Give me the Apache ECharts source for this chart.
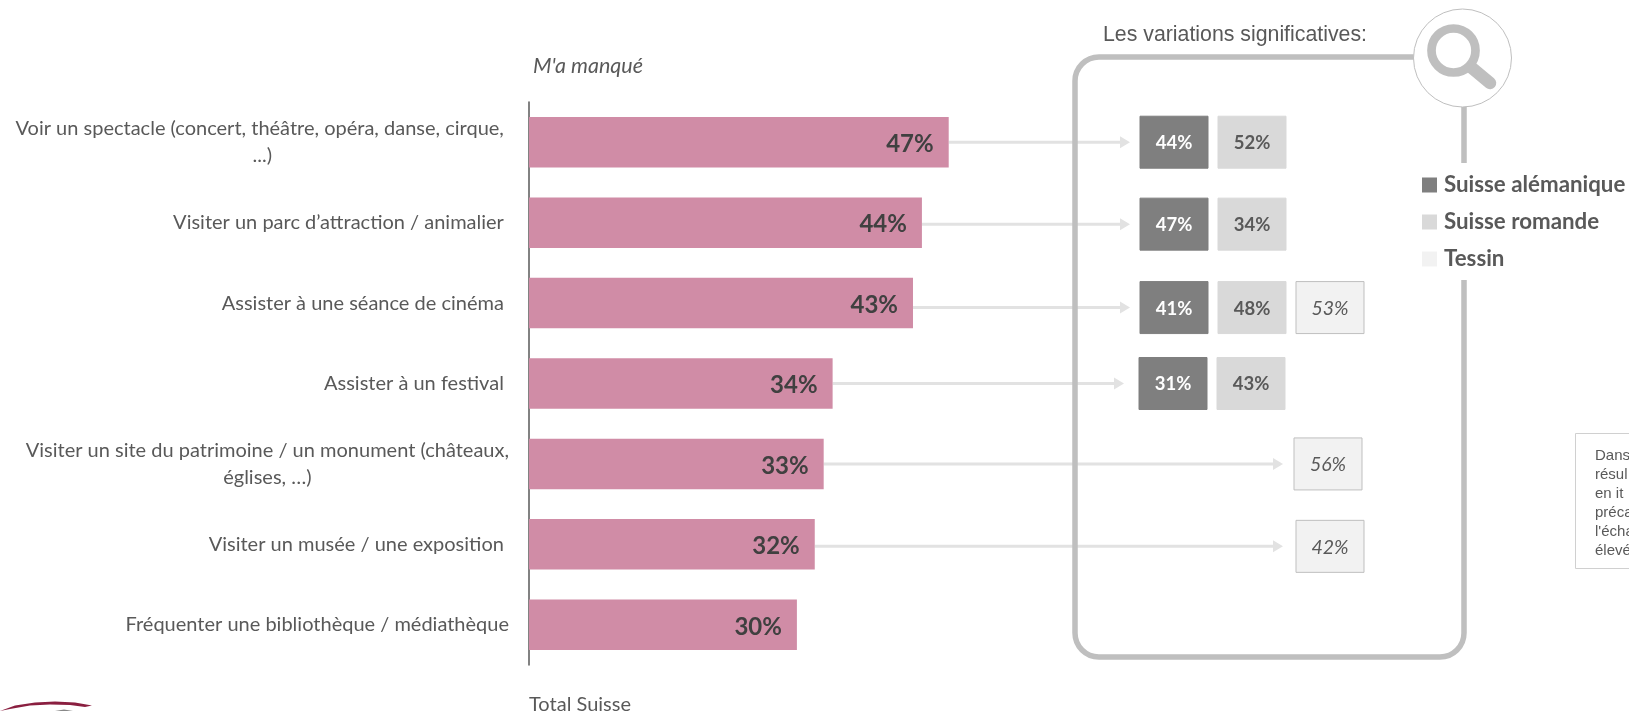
<!DOCTYPE html>
<html>
<head>
<meta charset="utf-8">
<script src="https://cdn.jsdelivr.net/npm/echarts@6/dist/echarts.min.js"></script>
<style>
html, body { margin: 0; padding: 0; background: #fff; }
#chart { width: 1629px; height: 711px; }
</style>
</head>
<body>
<div id="chart"></div>
<script>
// trailing spaces are in the source labels, they push some rows a little to the left
var categories = [
  'Voir un spectacle (concert, théâtre, opéra, danse, cirque, \n...)',
  'Visiter un parc d’attraction / animalier ',
  'Assister à une séance de cinéma ',
  'Assister à un festival ',
  'Visiter un site du patrimoine / un monument (châteaux,\néglises, …)',
  'Visiter un musée / une exposition ',
  'Fréquenter une bibliothèque / médiathèque'
];
var totalSuisse = [47, 44, 43, 34, 33, 32, 30];
var regions = ['Suisse alémanique', 'Suisse romande', 'Tessin'];
var alemanique = [44, 47, 41, 31, null, null, null];
var romande = [52, 34, 48, 43, null, null, null];
var tessin = [null, null, 53, null, 56, 42, null];

// layout only, no data in here
var rowNudge = [0, 1.5, 4.5, 0, 0, 2, 0];
var arrowEnd = [1130, 1130, 1130, 1124, 1283, 1283, null];
var tessinNudge = { 4: -2 };
var sansFont = 'Lato';

var chart = echarts.init(document.getElementById('chart'));

function regionSeries(col, values, fill, stroke, textColor, bold, italic) {
  var data = [];
  values.forEach(function (v, i) {
    if (v !== null) data.push([col, i, v]);
  });
  return {
    name: regions[col],
    type: 'custom',
    xAxisIndex: 1,
    yAxisIndex: 1,
    itemStyle: { color: fill },
    data: data,
    encode: { x: 0, y: 1 },
    renderItem: function (params, api) {
      var row = api.value(1);
      var p = api.coord([api.value(0), row]);
      var dx = (col === 2 && tessinNudge[row]) || (row === 3 ? -1 : 0);
      var cx = p[0] + dx, cy = p[1] + rowNudge[row];
      return {
        type: 'group',
        children: [{
          type: 'rect',
          shape: { x: cx - 34, y: cy - 26, width: 68, height: 52 },
          style: { fill: fill, stroke: stroke, lineWidth: 1 }
        }, {
          type: 'text',
          style: {
            x: cx, y: cy + 1, text: api.value(2) + '%',
            align: 'center', verticalAlign: 'middle',
            fill: textColor,
            font: (italic ? 'italic 19.5px ' : 'bold 18.5px ') + sansFont
          }
        }]
      };
    }
  };
}

var option = {
  backgroundColor: '#fff',
  animation: false,
  textStyle: { fontFamily: sansFont },
  grid: [
    { left: 529, top: 102, width: 893, height: 563 },
    { left: 1135, top: 102, width: 234, height: 563 }
  ],
  xAxis: [
    { type: 'value', gridIndex: 0, min: 0, max: 100, show: false },
    { type: 'category', gridIndex: 1, data: regions, show: false }
  ],
  yAxis: [
    {
      type: 'category',
      gridIndex: 0,
      inverse: true,
      data: categories,
      axisLine: { show: true, lineStyle: { color: '#595959', width: 1.5 } },
      axisTick: { show: false },
      axisLabel: {
        margin: 20,
        align: 'right',
        color: '#595959',
        fontSize: 20,
        formatter: function (v) {
          return v.split('\n').map(function (s) { return '{c|' + s + '}'; }).join('\n');
        },
        rich: { c: { align: 'center', color: '#595959', fontSize: 20, lineHeight: 27, fontFamily: sansFont } }
      }
    },
    { type: 'category', gridIndex: 1, inverse: true, data: categories, show: false }
  ],
  legend: {
    data: regions.map(function (r) { return { name: r, icon: 'rect' }; }),
    orient: 'vertical',
    left: 1422,
    top: 174,
    z: 20,
    selectedMode: false,
    itemWidth: 15,
    itemHeight: 15,
    itemGap: 15,
    padding: 0,
    textStyle: { color: '#595959', fontWeight: 'bold', fontSize: 22.3, fontFamily: sansFont, padding: [0, 0, 0, 2] }
  },
  series: [
    {
      name: 'Total Suisse',
      type: 'bar',
      data: totalSuisse,
      barWidth: 50.5,
      itemStyle: { color: '#d08ca6' },
      label: {
        show: true,
        position: 'insideRight',
        distance: 15,
        offset: [0, 2],
        color: '#404040',
        fontWeight: 'bold',
        fontSize: 24,
        formatter: '{c}%'
      }
    },
    {
      // grey arrows from the end of each bar to its boxes
      type: 'custom',
      data: totalSuisse.map(function (v, i) { return [v, i]; }),
      encode: { x: 0, y: 1 },
      z: 1,
      renderItem: function (params, api) {
        var row = api.value(1);
        if (arrowEnd[row] === null) return null;
        var p = api.coord([api.value(0), row]);
        var y = p[1] + rowNudge[row], end = arrowEnd[row];
        return {
          type: 'group',
          children: [{
            type: 'line',
            shape: { x1: p[0], y1: y, x2: end - 9, y2: y },
            style: { stroke: '#e2e2e2', lineWidth: 3 }
          }, {
            type: 'polygon',
            shape: { points: [[end - 10, y - 6], [end, y], [end - 10, y + 6]] },
            style: { fill: '#e2e2e2' }
          }]
        };
      }
    },
    regionSeries(0, alemanique, '#7f7f7f', '#7f7f7f', '#ffffff', true, false),
    regionSeries(1, romande, '#d9d9d9', '#d9d9d9', '#595959', true, false),
    regionSeries(2, tessin, '#f2f2f2', '#bfbfbf', '#595959', false, true)
  ],
  graphic: [
    { type: 'text', z: 10, x: 533, y: 55, style: { text: "M'a manqué", fill: '#595959', font: 'italic 21.5px ' + sansFont } },
    { type: 'text', z: 10, x: 529, y: 695, style: { text: 'Total Suisse', fill: '#595959', font: '20px ' + sansFont } },
    { type: 'text', z: 10, x: 1103, y: 25, style: { text: 'Les variations significatives:', fill: '#595959', font: '21.3px "Liberation Sans"' } },
    // frame around the regional boxes
    { type: 'rect', z: 10, shape: { x: 1075, y: 57, width: 389, height: 600, r: 24 }, style: { fill: 'none', stroke: '#bfbfbf', lineWidth: 5.5 } },
    { type: 'rect', z: 11, shape: { x: 1458, y: 163, width: 12, height: 117 }, style: { fill: '#fff' } },
    // magnifier badge
    { type: 'circle', z: 12, shape: { cx: 1462.5, cy: 58, r: 49 }, style: { fill: '#fff', stroke: '#bfbfbf', lineWidth: 1 } },
    { type: 'circle', z: 13, shape: { cx: 1453.5, cy: 50.5, r: 22 }, style: { fill: 'none', stroke: '#bfbfbf', lineWidth: 8.7 } },
    { type: 'line', z: 13, shape: { x1: 1472, y1: 68, x2: 1490, y2: 83 }, style: { stroke: '#bfbfbf', lineWidth: 12.5, lineCap: 'round' } },
    // note, cut by the page edge in the source
    { type: 'rect', z: 10, shape: { x: 1575.5, y: 433.5, width: 80, height: 135 }, style: { fill: '#fff', stroke: '#d0d0d0', lineWidth: 1 } },
    { type: 'text', z: 11, x: 1595, y: 446, style: { text: 'Dans\nrésul\nen it\npréca\nl\'écha\nélevé', fill: '#595959', font: '15px "Liberation Sans"', lineHeight: 19 } },
    // logo arc in the corner
    { type: 'polygon', z: 10, shape: { points: [[0, 711], [15, 705.5], [35, 702.5], [55, 701.5], [75, 702.5], [92, 705.5], [85, 707], [70, 705], [50, 704.5], [30, 705.5], [10, 709]] }, style: { fill: '#8a1f40' } },
    { type: 'polygon', z: 10, shape: { points: [[55, 711], [64, 709.5], [73, 711]] }, style: { fill: '#888888' } }
  ]
};

chart.setOption(option);
</script>
</body>
</html>
